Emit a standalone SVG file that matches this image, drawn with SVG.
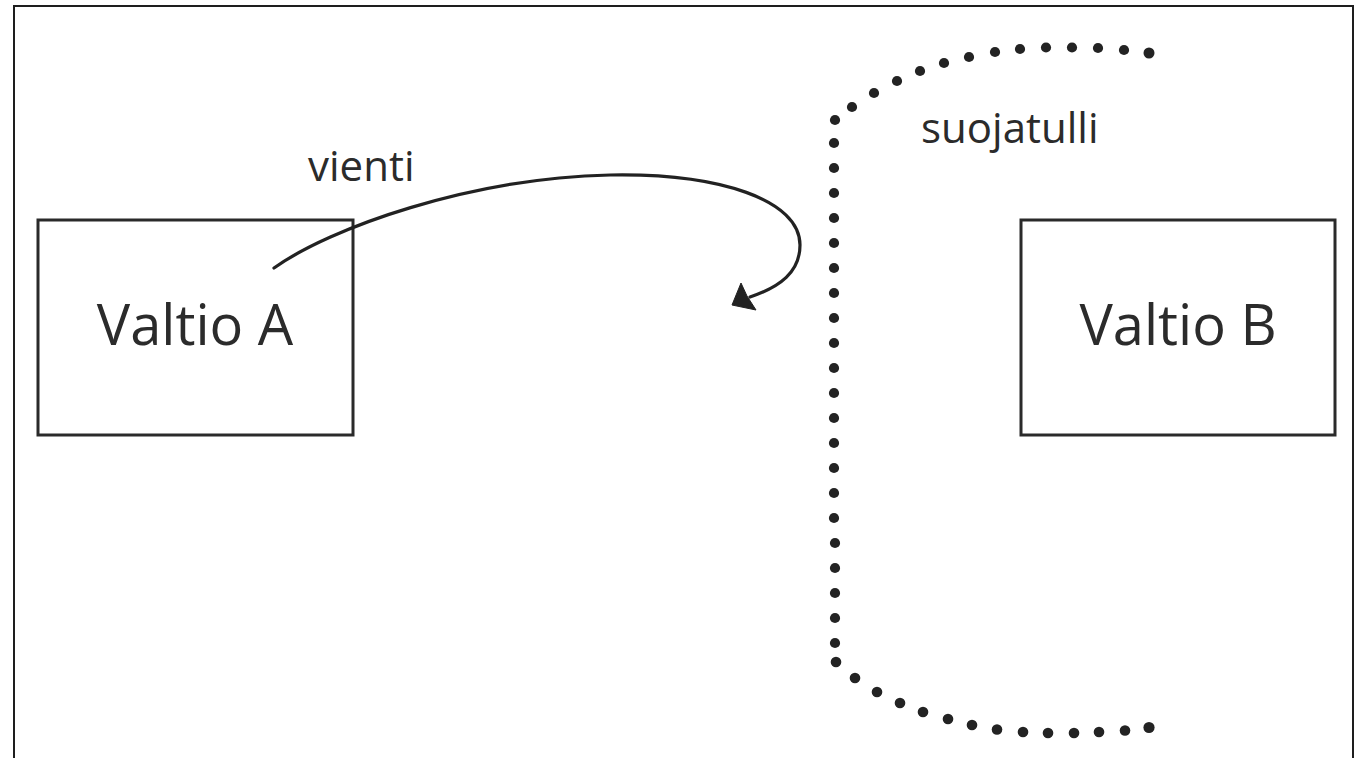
<svg xmlns="http://www.w3.org/2000/svg" width="1365" height="758" viewBox="0 0 1365 758">
<defs>
<style>
.box{fill:#ffffff;stroke:#2a2a2a;stroke-width:3}
.frame{fill:none;stroke:#1e1e1e;stroke-width:2}
.big{font-family:"Open Sans","Liberation Sans",sans-serif;font-size:56px;fill:#2b2b2b;text-anchor:middle}
.lbl{font-family:"Open Sans","Liberation Sans",sans-serif;font-size:42px;fill:#2b2b2b}
.conn{fill:none;stroke:#222;stroke-width:3.2;stroke-linecap:round}
.dots circle{fill:#232323}
</style>
</defs>
<rect x="0" y="0" width="1365" height="758" fill="#ffffff"/>
<path class="frame" d="M14,770 L14,6 L1353,6 L1353,770"/>
<g id="valtio-a">
<rect class="box" x="38" y="220" width="315" height="215"/>
<text class="big" x="195" y="345">Valtio A</text>
</g>
<g id="valtio-b">
<rect class="box" x="1021" y="220" width="314" height="215"/>
<text class="big" x="1178" y="345">Valtio B</text>
</g>
<g id="connectors">
<path class="conn" d="M274,268 C330,228 470,178 610,175 C720,173 800,200 800,245 C800,272 780,287 750,297"/>
<path d="M732,305 L741,283 L747,296 L756,310 Z" fill="#222" stroke="#222" stroke-width="1" stroke-linejoin="round"/>
<text class="lbl" x="308" y="181">vienti</text>
</g>
<g id="suojatulli">
<text class="lbl" x="921" y="143">suojatulli</text>
<g class="dots">
<circle cx="1149" cy="53" r="5.5"/>
<circle cx="1124" cy="50" r="5.1"/>
<circle cx="1098" cy="48" r="5.1"/>
<circle cx="1072" cy="47.5" r="5.1"/>
<circle cx="1046" cy="47.5" r="5.1"/>
<circle cx="1020" cy="49" r="5.1"/>
<circle cx="995" cy="52" r="5.1"/>
<circle cx="969" cy="57" r="5.1"/>
<circle cx="944" cy="63" r="5.1"/>
<circle cx="920" cy="71" r="5.1"/>
<circle cx="897" cy="81" r="5.1"/>
<circle cx="874" cy="93" r="5.1"/>
<circle cx="852" cy="107" r="5.1"/>
<circle cx="835" cy="120" r="5.1"/>
<circle cx="834" cy="143" r="5.1"/>
<circle cx="834" cy="168" r="5.1"/>
<circle cx="834" cy="193" r="5.1"/>
<circle cx="834" cy="218" r="5.1"/>
<circle cx="834" cy="243" r="5.1"/>
<circle cx="834" cy="268" r="5.1"/>
<circle cx="834" cy="293" r="5.1"/>
<circle cx="834" cy="318" r="5.1"/>
<circle cx="834" cy="343" r="5.1"/>
<circle cx="834" cy="368" r="5.1"/>
<circle cx="834" cy="393" r="5.1"/>
<circle cx="834" cy="418" r="5.1"/>
<circle cx="834" cy="443" r="5.1"/>
<circle cx="834" cy="468" r="5.1"/>
<circle cx="834" cy="493" r="5.1"/>
<circle cx="834" cy="518" r="5.1"/>
<circle cx="835" cy="543" r="5.1"/>
<circle cx="835" cy="568" r="5.1"/>
<circle cx="835" cy="593" r="5.1"/>
<circle cx="835" cy="618" r="5.1"/>
<circle cx="835" cy="643" r="5.1"/>
<circle cx="836" cy="662" r="5.3"/>
<circle cx="855" cy="678" r="5.3"/>
<circle cx="877" cy="692" r="5.3"/>
<circle cx="900" cy="703" r="5.3"/>
<circle cx="923" cy="712" r="5.3"/>
<circle cx="948" cy="719" r="5.3"/>
<circle cx="972" cy="725" r="5.3"/>
<circle cx="997" cy="729.5" r="5.3"/>
<circle cx="1023" cy="732" r="5.3"/>
<circle cx="1048" cy="733" r="5.3"/>
<circle cx="1074" cy="733" r="5.3"/>
<circle cx="1099" cy="732" r="5.3"/>
<circle cx="1125" cy="730.5" r="5.3"/>
<circle cx="1149" cy="727.5" r="5.6"/>
</g>
</g>
</svg>
